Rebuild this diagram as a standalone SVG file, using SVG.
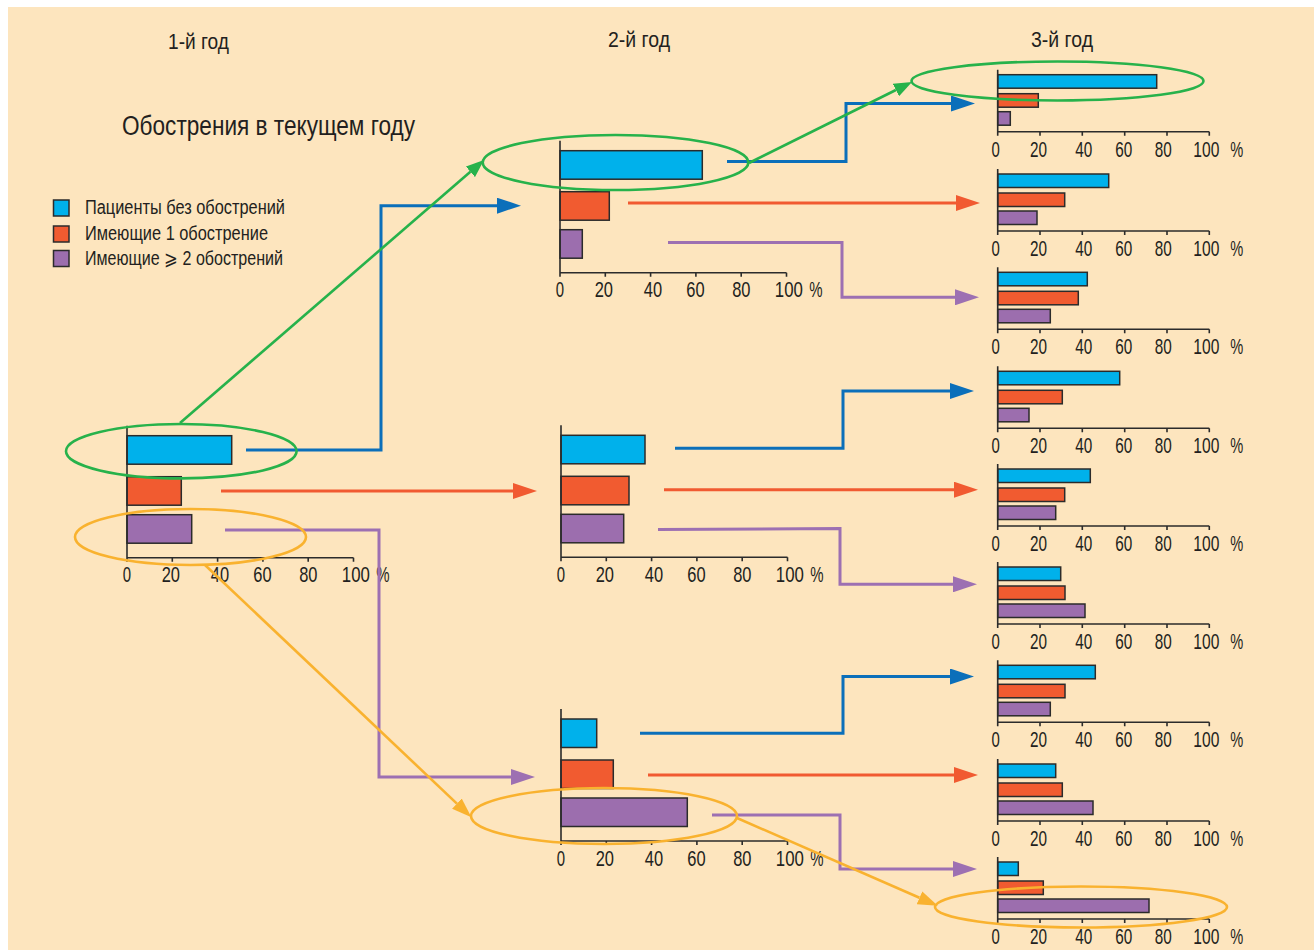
<svg xmlns="http://www.w3.org/2000/svg" width="1314" height="950" viewBox="0 0 1314 950">
<defs>
<style>
.bg{fill:#fde5be}
.t{font-family:"Liberation Sans",Arial,sans-serif;fill:#231f20}
.n{font-family:"Liberation Sans",Arial,sans-serif;fill:#231f20;font-size:21.5px;text-anchor:middle}
.b{fill:#00b1eb;stroke:#2b2b2b;stroke-width:1.5}
.r{fill:#f15b30;stroke:#2b2b2b;stroke-width:1.5}
.p{fill:#9c6eae;stroke:#2b2b2b;stroke-width:1.5}
.ax{fill:none;stroke:#2b2b2b;stroke-width:1.6}
.cb{fill:none;stroke:#0b6fba;stroke-width:3}
.cr{fill:none;stroke:#f15a31;stroke-width:3}
.cp{fill:none;stroke:#9d70b2;stroke-width:3}
.cg{fill:none;stroke:#27b24b;stroke-width:2.6}
.co{fill:none;stroke:#f9b22f;stroke-width:2.6}
</style>
<marker id="ab" markerUnits="userSpaceOnUse" markerWidth="24" markerHeight="16" refX="0" refY="8" orient="auto"><path d="M0,0 L24,8 L0,16 z" fill="#0b6fba"/></marker>
<marker id="ar" markerUnits="userSpaceOnUse" markerWidth="24" markerHeight="16" refX="0" refY="8" orient="auto"><path d="M0,0 L24,8 L0,16 z" fill="#f15a31"/></marker>
<marker id="ap" markerUnits="userSpaceOnUse" markerWidth="24" markerHeight="16" refX="0" refY="8" orient="auto"><path d="M0,0 L24,8 L0,16 z" fill="#9d70b2"/></marker>
<marker id="ag" markerUnits="userSpaceOnUse" markerWidth="18" markerHeight="14" refX="0" refY="7" orient="auto"><path d="M0,0 L18,7 L0,14 z" fill="#27b24b"/></marker>
<marker id="ao" markerUnits="userSpaceOnUse" markerWidth="20" markerHeight="14" refX="0" refY="7" orient="auto"><path d="M0,0 L20,7 L0,14 z" fill="#f9b22f"/></marker>
<g id="bigaxis">
<path class="ax" d="M0,-132 V0 H226.5 M45.3,0 v4 M90.6,0 v4 M135.9,0 v4 M181.2,0 v4 M226.5,0 v4 M0,0 v4"/>
<text class="n" x="0" y="24.5" textLength="8.3" lengthAdjust="spacingAndGlyphs">0</text>
<text class="n" x="43.8" y="24.5" textLength="18.3" lengthAdjust="spacingAndGlyphs">20</text>
<text class="n" x="93" y="24.5" textLength="18.3" lengthAdjust="spacingAndGlyphs">40</text>
<text class="n" x="135.5" y="24.5" textLength="18.3" lengthAdjust="spacingAndGlyphs">60</text>
<text class="n" x="181.3" y="24.5" textLength="18.3" lengthAdjust="spacingAndGlyphs">80</text>
<text class="n" x="228.8" y="24.5" textLength="28" lengthAdjust="spacingAndGlyphs">100</text>
<text class="n" x="256" y="24.5" textLength="13.3" lengthAdjust="spacingAndGlyphs">%</text>
</g>
<g id="smallaxis">
<path class="ax" d="M0,-62 V0 H211.6 M42.3,0 v4 M84.6,0 v4 M127,0 v4 M169.3,0 v4 M211.6,0 v4 M0,0 v4"/>
<text class="n" x="-2" y="25" textLength="8.3" lengthAdjust="spacingAndGlyphs">0</text>
<text class="n" x="40.8" y="25" textLength="17" lengthAdjust="spacingAndGlyphs">20</text>
<text class="n" x="86" y="25" textLength="17" lengthAdjust="spacingAndGlyphs">40</text>
<text class="n" x="126" y="25" textLength="17" lengthAdjust="spacingAndGlyphs">60</text>
<text class="n" x="165.6" y="25" textLength="17" lengthAdjust="spacingAndGlyphs">80</text>
<text class="n" x="208.6" y="25" textLength="26" lengthAdjust="spacingAndGlyphs">100</text>
<text class="n" x="239" y="25" textLength="13" lengthAdjust="spacingAndGlyphs">%</text>
</g>
</defs>
<rect class="bg" x="8" y="7" width="1306" height="943"/>

<g id="headers">
<text class="t" x="198.5" y="49" font-size="22" text-anchor="middle" textLength="61" lengthAdjust="spacingAndGlyphs">1-й год</text>
<text class="t" x="639" y="47" font-size="22" text-anchor="middle" textLength="62" lengthAdjust="spacingAndGlyphs">2-й год</text>
<text class="t" x="1062" y="47" font-size="22" text-anchor="middle" textLength="62" lengthAdjust="spacingAndGlyphs">3-й год</text>
<text class="t" x="122" y="135" font-size="27" textLength="293" lengthAdjust="spacingAndGlyphs">Обострения в текущем году</text>
</g>

<g id="legend">
<rect class="b" x="53.5" y="200" width="15.5" height="16"/>
<rect class="r" x="53.5" y="226" width="15.5" height="16"/>
<rect class="p" x="53.5" y="250.5" width="15.5" height="16"/>
<text class="t" x="85" y="213.5" font-size="19.5" textLength="200" lengthAdjust="spacingAndGlyphs">Пациенты без обострений</text>
<text class="t" x="85" y="239.5" font-size="19.5" textLength="183" lengthAdjust="spacingAndGlyphs">Имеющие 1 обострение</text>
<text class="t" x="85" y="264.5" font-size="19.5" textLength="198" lengthAdjust="spacingAndGlyphs">Имеющие ⩾ 2 обострений</text>
</g>

<g id="year1">
<g transform="translate(127,557.7)">
<rect class="b" x="0" y="-122" width="104.7" height="28.5"/>
<rect class="r" x="0" y="-81" width="54.3" height="28.5"/>
<rect class="p" x="0" y="-43" width="64.7" height="28.5"/>
<use href="#bigaxis"/>
</g>
</g>

<g id="year2-top">
<g transform="translate(560,272.7)">
<rect class="b" x="0" y="-122" width="142.3" height="28.5"/>
<rect class="r" x="0" y="-81" width="49.3" height="28.5"/>
<rect class="p" x="0" y="-43" width="22.3" height="28.5"/>
<use href="#bigaxis"/>
</g>
</g>
<g id="year2-mid">
<g transform="translate(561,557.3)">
<rect class="b" x="0" y="-122" width="84" height="28.5"/>
<rect class="r" x="0" y="-81" width="68" height="28.5"/>
<rect class="p" x="0" y="-43" width="62.7" height="28.5"/>
<use href="#bigaxis"/>
</g>
</g>
<g id="year2-bot">
<g transform="translate(561,841)">
<rect class="b" x="0" y="-122" width="35.7" height="28.5"/>
<rect class="r" x="0" y="-81" width="52.3" height="28.5"/>
<rect class="p" x="0" y="-43" width="126.3" height="28.5"/>
<use href="#bigaxis"/>
</g>
</g>

<g id="year3-1" transform="translate(997.7,131.7)">
<rect class="b" x="0" y="-57" width="159" height="13.5"/><rect class="r" x="0" y="-38" width="40.6" height="13.5"/><rect class="p" x="0" y="-20" width="12.6" height="13.5"/><use href="#smallaxis"/>
</g>
<g id="year3-2" transform="translate(997.7,231)">
<rect class="b" x="0" y="-57" width="111" height="13.5"/><rect class="r" x="0" y="-38" width="67" height="13.5"/><rect class="p" x="0" y="-20" width="39.3" height="13.5"/><use href="#smallaxis"/>
</g>
<g id="year3-3" transform="translate(997.7,329.3)">
<rect class="b" x="0" y="-57" width="89.6" height="13.5"/><rect class="r" x="0" y="-38" width="80.6" height="13.5"/><rect class="p" x="0" y="-20" width="52.6" height="13.5"/><use href="#smallaxis"/>
</g>
<g id="year3-4" transform="translate(997.7,428.3)">
<rect class="b" x="0" y="-57" width="122" height="13.5"/><rect class="r" x="0" y="-38" width="64.6" height="13.5"/><rect class="p" x="0" y="-20" width="31.3" height="13.5"/><use href="#smallaxis"/>
</g>
<g id="year3-5" transform="translate(997.7,526)">
<rect class="b" x="0" y="-57" width="92.6" height="13.5"/><rect class="r" x="0" y="-38" width="67" height="13.5"/><rect class="p" x="0" y="-20" width="58" height="13.5"/><use href="#smallaxis"/>
</g>
<g id="year3-6" transform="translate(997.7,624)">
<rect class="b" x="0" y="-57" width="63" height="13.5"/><rect class="r" x="0" y="-38" width="67.3" height="13.5"/><rect class="p" x="0" y="-20" width="87.3" height="13.5"/><use href="#smallaxis"/>
</g>
<g id="year3-7" transform="translate(997.7,722.3)">
<rect class="b" x="0" y="-57" width="97.6" height="13.5"/><rect class="r" x="0" y="-38" width="67.3" height="13.5"/><rect class="p" x="0" y="-20" width="52.6" height="13.5"/><use href="#smallaxis"/>
</g>
<g id="year3-8" transform="translate(997.7,821)">
<rect class="b" x="0" y="-57" width="58" height="13.5"/><rect class="r" x="0" y="-38" width="64.6" height="13.5"/><rect class="p" x="0" y="-20" width="95.3" height="13.5"/><use href="#smallaxis"/>
</g>
<g id="year3-9" transform="translate(997.7,919)">
<rect class="b" x="0" y="-57" width="20.6" height="13.5"/><rect class="r" x="0" y="-38" width="45.6" height="13.5"/><rect class="p" x="0" y="-20" width="151.3" height="13.5"/><use href="#smallaxis"/>
</g>

<g id="connectors">
<path class="cb" d="M246,450 H381 V205.7 H497" marker-end="url(#ab)"/>
<path class="cr" d="M221,491 H513" marker-end="url(#ar)"/>
<path class="cp" d="M225,530 H379 V777 H511" marker-end="url(#ap)"/>
<path class="cb" d="M727,161.5 H846 V103.5 H951" marker-end="url(#ab)"/>
<path class="cr" d="M628,203 H956" marker-end="url(#ar)"/>
<path class="cp" d="M668,242.5 H842 V297.3 H955" marker-end="url(#ap)"/>
<path class="cb" d="M675,448.3 H843 V391 H950" marker-end="url(#ab)"/>
<path class="cr" d="M664,489.7 H954" marker-end="url(#ar)"/>
<path class="cp" d="M658,529.5 L840,528.5 V584.3 H953" marker-end="url(#ap)"/>
<path class="cb" d="M640,733.3 H843 V676.5 H950" marker-end="url(#ab)"/>
<path class="cr" d="M648,775 H954" marker-end="url(#ar)"/>
<path class="cp" d="M712,815 H840 V869 H953" marker-end="url(#ap)"/>
<path class="cg" d="M180,423 L470.4,171.8" marker-end="url(#ag)"/>
<path class="cg" d="M749,163 L895.9,90" marker-end="url(#ag)"/>
<path class="co" d="M205,565 L456.9,803.6" marker-end="url(#ao)"/>
<path class="co" d="M737,818 L919.5,897.8" marker-end="url(#ao)"/>
</g>

<g id="highlights">
<ellipse class="cg" cx="181.3" cy="451.2" rx="115.3" ry="27.2"/>
<ellipse class="co" cx="190.5" cy="537" rx="115.5" ry="28"/>
<ellipse class="cg" cx="615.5" cy="162.5" rx="132.8" ry="27.5"/>
<ellipse class="cg" cx="1057.5" cy="81" rx="146" ry="19.5"/>
<ellipse class="co" cx="604" cy="816" rx="133" ry="28"/>
<ellipse class="co" cx="1081" cy="907" rx="146" ry="20.5"/>
</g>
</svg>
